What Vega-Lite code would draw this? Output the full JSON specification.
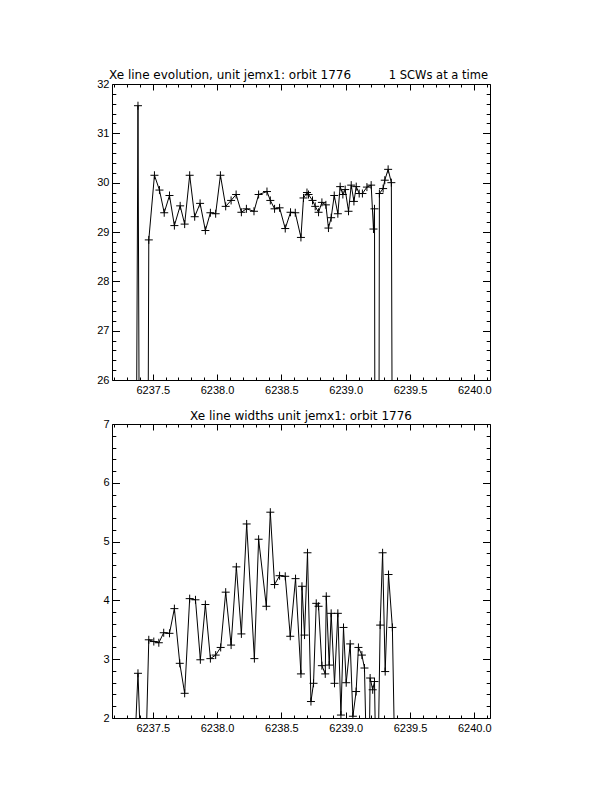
{
  "$schema": "https://vega.github.io/schema/vega-lite/v6.json",
  "background": "white",
  "padding": {"left": 96, "top": 68, "right": 5, "bottom": 5},
  "bounds": "flush",
  "spacing": 44,
  "config": {
    "view": {"stroke": "black", "strokeWidth": 1},
    "axis": {"domain": false, "grid": false, "tickColor": "black", "tickWidth": 1, "labelColor": "black", "labelFont": "Liberation Sans", "labelFontSize": 11, "labelOverlap": false, "labelFlush": false, "title": null}
  },
  "datasets": {
    "evo": [
      {"t": 6237.330, "v": 0}, {"t": 6237.385, "v": 31.56}, {"t": 6237.430, "v": 0}, {"t": 6237.469, "v": 28.84},
      {"t": 6237.513, "v": 30.15}, {"t": 6237.552, "v": 29.85}, {"t": 6237.589, "v": 29.39}, {"t": 6237.630, "v": 29.74},
      {"t": 6237.668, "v": 29.13}, {"t": 6237.713, "v": 29.53}, {"t": 6237.748, "v": 29.16}, {"t": 6237.787, "v": 30.15},
      {"t": 6237.826, "v": 29.31}, {"t": 6237.868, "v": 29.58}, {"t": 6237.909, "v": 29.03}, {"t": 6237.948, "v": 29.39},
      {"t": 6237.989, "v": 29.37}, {"t": 6238.026, "v": 30.15}, {"t": 6238.067, "v": 29.52}, {"t": 6238.109, "v": 29.64},
      {"t": 6238.148, "v": 29.76}, {"t": 6238.189, "v": 29.40}, {"t": 6238.228, "v": 29.47}, {"t": 6238.287, "v": 29.42},
      {"t": 6238.323, "v": 29.76}, {"t": 6238.388, "v": 29.82}, {"t": 6238.414, "v": 29.64}, {"t": 6238.447, "v": 29.47},
      {"t": 6238.486, "v": 29.49}, {"t": 6238.530, "v": 29.07}, {"t": 6238.571, "v": 29.40}, {"t": 6238.608, "v": 29.39},
      {"t": 6238.652, "v": 28.89}, {"t": 6238.672, "v": 29.69}, {"t": 6238.699, "v": 29.80}, {"t": 6238.711, "v": 29.76},
      {"t": 6238.742, "v": 29.64}, {"t": 6238.763, "v": 29.52}, {"t": 6238.789, "v": 29.40}, {"t": 6238.815, "v": 29.60},
      {"t": 6238.846, "v": 29.55}, {"t": 6238.866, "v": 29.08}, {"t": 6238.887, "v": 29.29}, {"t": 6238.911, "v": 29.74},
      {"t": 6238.939, "v": 29.37}, {"t": 6238.957, "v": 29.92}, {"t": 6238.978, "v": 29.76}, {"t": 6238.996, "v": 29.86},
      {"t": 6239.022, "v": 29.42}, {"t": 6239.043, "v": 29.95}, {"t": 6239.064, "v": 29.62}, {"t": 6239.082, "v": 29.92},
      {"t": 6239.105, "v": 29.78}, {"t": 6239.130, "v": 29.78}, {"t": 6239.165, "v": 29.91}, {"t": 6239.198, "v": 29.95},
      {"t": 6239.216, "v": 29.06}, {"t": 6239.224, "v": 29.47}, {"t": 6239.243, "v": 0}, {"t": 6239.262, "v": 29.78},
      {"t": 6239.291, "v": 29.88}, {"t": 6239.304, "v": 30.05}, {"t": 6239.330, "v": 30.27}, {"t": 6239.355, "v": 30.00},
      {"t": 6239.392, "v": 0}
    ],
    "wid": [
      {"t": 6237.330, "v": 0}, {"t": 6237.385, "v": 2.76}, {"t": 6237.430, "v": 0}, {"t": 6237.469, "v": 3.33},
      {"t": 6237.508, "v": 3.30}, {"t": 6237.547, "v": 3.28}, {"t": 6237.585, "v": 3.45}, {"t": 6237.630, "v": 3.44},
      {"t": 6237.668, "v": 3.86}, {"t": 6237.710, "v": 2.93}, {"t": 6237.748, "v": 2.42}, {"t": 6237.787, "v": 4.03},
      {"t": 6237.832, "v": 4.01}, {"t": 6237.870, "v": 2.99}, {"t": 6237.909, "v": 3.93}, {"t": 6237.948, "v": 3.01},
      {"t": 6237.989, "v": 3.07}, {"t": 6238.028, "v": 3.20}, {"t": 6238.067, "v": 4.14}, {"t": 6238.109, "v": 3.24},
      {"t": 6238.150, "v": 4.57}, {"t": 6238.189, "v": 3.43}, {"t": 6238.230, "v": 5.30}, {"t": 6238.290, "v": 3.01},
      {"t": 6238.323, "v": 5.04}, {"t": 6238.383, "v": 3.90}, {"t": 6238.414, "v": 5.50}, {"t": 6238.447, "v": 4.27},
      {"t": 6238.486, "v": 4.42}, {"t": 6238.530, "v": 4.41}, {"t": 6238.569, "v": 3.39}, {"t": 6238.610, "v": 4.37},
      {"t": 6238.652, "v": 2.75}, {"t": 6238.660, "v": 4.24}, {"t": 6238.680, "v": 3.41}, {"t": 6238.703, "v": 4.81},
      {"t": 6238.730, "v": 2.28}, {"t": 6238.750, "v": 2.59}, {"t": 6238.771, "v": 3.95}, {"t": 6238.789, "v": 3.90},
      {"t": 6238.815, "v": 2.89}, {"t": 6238.841, "v": 2.75}, {"t": 6238.849, "v": 4.07}, {"t": 6238.872, "v": 2.90},
      {"t": 6238.887, "v": 3.78}, {"t": 6238.913, "v": 2.59}, {"t": 6238.939, "v": 3.78}, {"t": 6238.963, "v": 2.05},
      {"t": 6238.983, "v": 3.54}, {"t": 6239.004, "v": 2.60}, {"t": 6239.035, "v": 3.26}, {"t": 6239.056, "v": 2.03},
      {"t": 6239.081, "v": 2.45}, {"t": 6239.099, "v": 3.20}, {"t": 6239.126, "v": 3.07}, {"t": 6239.146, "v": 2.85},
      {"t": 6239.175, "v": 0}, {"t": 6239.190, "v": 2.68}, {"t": 6239.210, "v": 2.48}, {"t": 6239.224, "v": 2.62},
      {"t": 6239.243, "v": 0}, {"t": 6239.268, "v": 3.58}, {"t": 6239.287, "v": 4.81}, {"t": 6239.307, "v": 2.79},
      {"t": 6239.333, "v": 4.44}, {"t": 6239.363, "v": 3.54}, {"t": 6239.392, "v": 0}
    ]
  },
  "vconcat": [
    {
      "width": 378,
      "height": 296,
      "data": {"name": "evo"},
      "layer": [
        {
          "mark": {"type": "line", "color": "black", "strokeWidth": 1, "clip": true},
          "encoding": {
            "x": {"field": "t", "type": "quantitative", "scale": {"domain": [6237.183, 6240.122], "nice": false, "zero": false},
                  "axis": {"orient": "bottom", "values": [6237.5, 6238, 6238.5, 6239, 6239.5, 6240], "format": ".1f", "ticks": false, "labelPadding": 4}},
            "y": {"field": "v", "type": "quantitative", "scale": {"domain": [26, 32], "nice": false, "zero": false},
                  "axis": {"orient": "left", "values": [26, 27, 28, 29, 30, 31, 32], "format": "d", "ticks": false, "labelPadding": 3, "labelBaseline": "middle"}}
          }
        },
        {
          "mark": {"type": "point", "shape": "M-1,0L1,0M0,-1L0,1", "size": 64, "filled": false, "stroke": "black", "strokeWidth": 1, "opacity": 1, "clip": true},
          "encoding": {
            "x": {"field": "t", "type": "quantitative", "scale": {"domain": [6237.183, 6240.122], "nice": false, "zero": false},
                  "axis": {"orient": "bottom", "values": [6237.5, 6238, 6238.5, 6239, 6239.5, 6240], "labels": false, "tickSize": -6}},
            "y": {"field": "v", "type": "quantitative", "scale": {"domain": [26, 32], "nice": false, "zero": false},
                  "axis": {"orient": "left", "values": [26, 27, 28, 29, 30, 31, 32], "labels": false, "tickSize": -7.5}}
          }
        },
        {
          "mark": {"type": "point", "opacity": 0, "clip": true},
          "encoding": {
            "x": {"field": "t", "type": "quantitative", "scale": {"domain": [6237.183, 6240.122], "nice": false, "zero": false},
                  "axis": {"orient": "top", "values": [6237.5, 6238, 6238.5, 6239, 6239.5, 6240], "labels": false, "tickSize": -6}},
            "y": {"field": "v", "type": "quantitative", "scale": {"domain": [26, 32], "nice": false, "zero": false},
                  "axis": {"orient": "right", "values": [26, 27, 28, 29, 30, 31, 32], "labels": false, "tickSize": -7.5}}
          }
        },
        {
          "mark": {"type": "point", "opacity": 0, "clip": true},
          "encoding": {
            "x": {"field": "t", "type": "quantitative", "scale": {"domain": [6237.183, 6240.122], "nice": false, "zero": false},
                  "axis": {"orient": "bottom", "values": [6237.2, 6237.3, 6237.4, 6237.6, 6237.7, 6237.8, 6237.9, 6238.1, 6238.2, 6238.3, 6238.4, 6238.6, 6238.7, 6238.8, 6238.9, 6239.1, 6239.2, 6239.3, 6239.4, 6239.6, 6239.7, 6239.8, 6239.9, 6240.1], "labels": false, "tickSize": -3}},
            "y": {"field": "v", "type": "quantitative", "scale": {"domain": [26, 32], "nice": false, "zero": false},
                  "axis": {"orient": "left", "values": [26.2, 26.4, 26.6, 26.8, 27.2, 27.4, 27.6, 27.8, 28.2, 28.4, 28.6, 28.8, 29.2, 29.4, 29.6, 29.8, 30.2, 30.4, 30.6, 30.8, 31.2, 31.4, 31.6, 31.8], "labels": false, "tickSize": -3.8}}
          }
        },
        {
          "mark": {"type": "point", "opacity": 0, "clip": true},
          "encoding": {
            "x": {"field": "t", "type": "quantitative", "scale": {"domain": [6237.183, 6240.122], "nice": false, "zero": false},
                  "axis": {"orient": "top", "values": [6237.2, 6237.3, 6237.4, 6237.6, 6237.7, 6237.8, 6237.9, 6238.1, 6238.2, 6238.3, 6238.4, 6238.6, 6238.7, 6238.8, 6238.9, 6239.1, 6239.2, 6239.3, 6239.4, 6239.6, 6239.7, 6239.8, 6239.9, 6240.1], "labels": false, "tickSize": -3}},
            "y": {"field": "v", "type": "quantitative", "scale": {"domain": [26, 32], "nice": false, "zero": false},
                  "axis": {"orient": "right", "values": [26.2, 26.4, 26.6, 26.8, 27.2, 27.4, 27.6, 27.8, 28.2, 28.4, 28.6, 28.8, 29.2, 29.4, 29.6, 29.8, 30.2, 30.4, 30.6, 30.8, 31.2, 31.4, 31.6, 31.8], "labels": false, "tickSize": -3.8}}
          }
        },
        {
          "data": {"values": [{"label": "Xe line evolution, unit jemx1: orbit 1776"}]},
          "mark": {"type": "text", "align": "left", "baseline": "alphabetic", "dy": -5, "dx": -3, "font": "DejaVu Sans", "fontSize": 12, "color": "black"},
          "encoding": {
            "x": {"datum": 6237.183, "type": "quantitative", "axis": null},
            "y": {"datum": 32, "type": "quantitative", "axis": null},
            "text": {"field": "label", "type": "nominal"}
          }
        },
        {
          "data": {"values": [{"label": "1 SCWs at a time"}]},
          "mark": {"type": "text", "align": "right", "baseline": "alphabetic", "dy": -5, "dx": -2, "font": "DejaVu Sans", "fontSize": 11.5, "color": "black"},
          "encoding": {
            "x": {"datum": 6240.122, "type": "quantitative", "axis": null},
            "y": {"datum": 32, "type": "quantitative", "axis": null},
            "text": {"field": "label", "type": "nominal"}
          }
        }
      ],
      "resolve": {"axis": {"x": "independent", "y": "independent"}}
    },
    {
      "width": 378,
      "height": 294,
      "data": {"name": "wid"},
      "layer": [
        {
          "mark": {"type": "line", "color": "black", "strokeWidth": 1, "clip": true},
          "encoding": {
            "x": {"field": "t", "type": "quantitative", "scale": {"domain": [6237.183, 6240.122], "nice": false, "zero": false},
                  "axis": {"orient": "bottom", "values": [6237.5, 6238, 6238.5, 6239, 6239.5, 6240], "format": ".1f", "ticks": false, "labelPadding": 4}},
            "y": {"field": "v", "type": "quantitative", "scale": {"domain": [2, 7], "nice": false, "zero": false},
                  "axis": {"orient": "left", "values": [2, 3, 4, 5, 6, 7], "format": "d", "ticks": false, "labelPadding": 3, "labelBaseline": "middle"}}
          }
        },
        {
          "mark": {"type": "point", "shape": "M-1,0L1,0M0,-1L0,1", "size": 64, "filled": false, "stroke": "black", "strokeWidth": 1, "opacity": 1, "clip": true},
          "encoding": {
            "x": {"field": "t", "type": "quantitative", "scale": {"domain": [6237.183, 6240.122], "nice": false, "zero": false},
                  "axis": {"orient": "bottom", "values": [6237.5, 6238, 6238.5, 6239, 6239.5, 6240], "labels": false, "tickSize": -6}},
            "y": {"field": "v", "type": "quantitative", "scale": {"domain": [2, 7], "nice": false, "zero": false},
                  "axis": {"orient": "left", "values": [2, 3, 4, 5, 6, 7], "labels": false, "tickSize": -7.5}}
          }
        },
        {
          "mark": {"type": "point", "opacity": 0, "clip": true},
          "encoding": {
            "x": {"field": "t", "type": "quantitative", "scale": {"domain": [6237.183, 6240.122], "nice": false, "zero": false},
                  "axis": {"orient": "top", "values": [6237.5, 6238, 6238.5, 6239, 6239.5, 6240], "labels": false, "tickSize": -6}},
            "y": {"field": "v", "type": "quantitative", "scale": {"domain": [2, 7], "nice": false, "zero": false},
                  "axis": {"orient": "right", "values": [2, 3, 4, 5, 6, 7], "labels": false, "tickSize": -7.5}}
          }
        },
        {
          "mark": {"type": "point", "opacity": 0, "clip": true},
          "encoding": {
            "x": {"field": "t", "type": "quantitative", "scale": {"domain": [6237.183, 6240.122], "nice": false, "zero": false},
                  "axis": {"orient": "bottom", "values": [6237.2, 6237.3, 6237.4, 6237.6, 6237.7, 6237.8, 6237.9, 6238.1, 6238.2, 6238.3, 6238.4, 6238.6, 6238.7, 6238.8, 6238.9, 6239.1, 6239.2, 6239.3, 6239.4, 6239.6, 6239.7, 6239.8, 6239.9, 6240.1], "labels": false, "tickSize": -3}},
            "y": {"field": "v", "type": "quantitative", "scale": {"domain": [2, 7], "nice": false, "zero": false},
                  "axis": {"orient": "left", "values": [2.2, 2.4, 2.6, 2.8, 3.2, 3.4, 3.6, 3.8, 4.2, 4.4, 4.6, 4.8, 5.2, 5.4, 5.6, 5.8, 6.2, 6.4, 6.6, 6.8], "labels": false, "tickSize": -3.8}}
          }
        },
        {
          "mark": {"type": "point", "opacity": 0, "clip": true},
          "encoding": {
            "x": {"field": "t", "type": "quantitative", "scale": {"domain": [6237.183, 6240.122], "nice": false, "zero": false},
                  "axis": {"orient": "top", "values": [6237.2, 6237.3, 6237.4, 6237.6, 6237.7, 6237.8, 6237.9, 6238.1, 6238.2, 6238.3, 6238.4, 6238.6, 6238.7, 6238.8, 6238.9, 6239.1, 6239.2, 6239.3, 6239.4, 6239.6, 6239.7, 6239.8, 6239.9, 6240.1], "labels": false, "tickSize": -3}},
            "y": {"field": "v", "type": "quantitative", "scale": {"domain": [2, 7], "nice": false, "zero": false},
                  "axis": {"orient": "right", "values": [2.2, 2.4, 2.6, 2.8, 3.2, 3.4, 3.6, 3.8, 4.2, 4.4, 4.6, 4.8, 5.2, 5.4, 5.6, 5.8, 6.2, 6.4, 6.6, 6.8], "labels": false, "tickSize": -3.8}}
          }
        },
        {
          "data": {"values": [{"label": "Xe line widths unit jemx1: orbit 1776"}]},
          "mark": {"type": "text", "align": "center", "baseline": "alphabetic", "dy": -4, "font": "DejaVu Sans", "fontSize": 12, "color": "black"},
          "encoding": {
            "x": {"datum": 6238.6525, "type": "quantitative", "axis": null},
            "y": {"datum": 7, "type": "quantitative", "axis": null},
            "text": {"field": "label", "type": "nominal"}
          }
        }
      ],
      "resolve": {"axis": {"x": "independent", "y": "independent"}}
    }
  ]
}
